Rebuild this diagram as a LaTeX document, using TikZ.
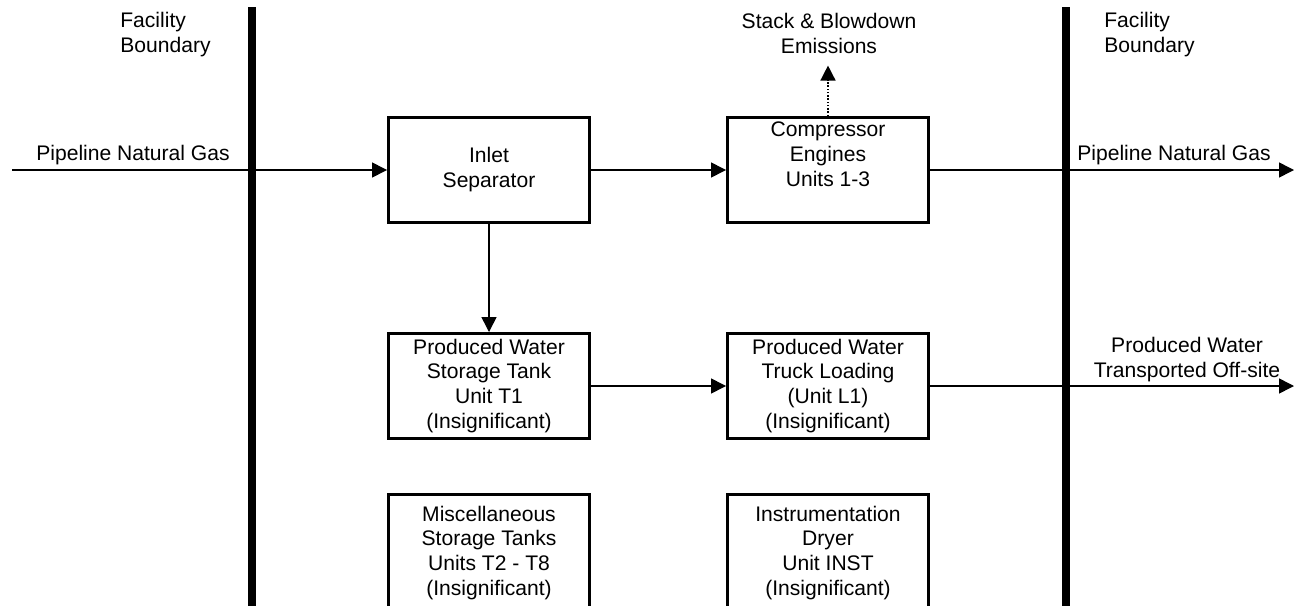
\documentclass[tikz,border=0pt]{standalone}
\usepackage{fontspec}
\setmainfont{Liberation Sans}
\usetikzlibrary{arrows.meta}

\begin{document}
\begin{tikzpicture}[x=0.02cm,y=-0.02cm,>={Triangle[length=0.3cm,width=0.3cm]},
  font=\fontsize{12}{14.2}\selectfont,
  unit/.style={draw,line width=1.7pt,minimum width=4.02cm,minimum height=2.1cm,align=center,inner sep=0pt},
  lowunit/.style={unit,minimum height=2.34cm},
  flow/.style={->,line width=0.85pt},
  boundary/.style={line width=4.5pt},
  tag/.style={align=center,inner sep=0pt}]
  \clip (0,0) rectangle (1294,605);
  \foreach \x/\t in {252/120,1066/1104}
  {
    \draw[boundary] (\x,7) -- (\x,620);
    \node[tag,align=left,anchor=west] (fb\x) at (\t,35) {Facility\\Boundary};
  }
  \node[unit] (inlet) at (489,170) {Inlet\\Separator};
  \node[unit] (comp) at (828,170) {Compressor\\Engines\\Units 1-3\\\strut};
  \node[unit] (tank) at (489,386) {Produced Water\\Storage Tank\\Unit T1\\(Insignificant)};
  \node[unit] (truck) at (828,386) {Produced Water\\Truck Loading\\(Unit L1)\\(Insignificant)};
  \node[lowunit] (misc) at (489,553) {Miscellaneous\\Storage Tanks\\Units T2 - T8\\(Insignificant)};
  \node[lowunit] (inst) at (828,553) {Instrumentation\\Dryer\\Unit INST\\(Insignificant)};
  \node[tag] (gasin) at (133,155) {Pipeline Natural Gas};
  \node[tag] (gasout) at (1174,155) {Pipeline Natural Gas};
  \node[tag] (water) at (1187,360) {Produced Water\\Transported Off-site};
  \node[tag] (stack) at (829,33) {Stack \& Blowdown\\Emissions};
  \coordinate (west) at (12,170);
  \coordinate (east) at (1294,170);
  \coordinate (offsite) at (1294,386);
  \draw[flow] (west) -- (inlet);
  \draw[flow] (inlet) -- (comp);
  \draw[flow] (comp) -- (east);
  \draw[flow] (inlet) -- (tank);
  \draw[flow] (tank) -- (truck);
  \draw[flow] (truck) -- (offsite);
  \draw[flow,densely dotted,shorten >=0.24cm] (comp.north) -- (comp.north |- stack.south);
\end{tikzpicture}
\end{document}
